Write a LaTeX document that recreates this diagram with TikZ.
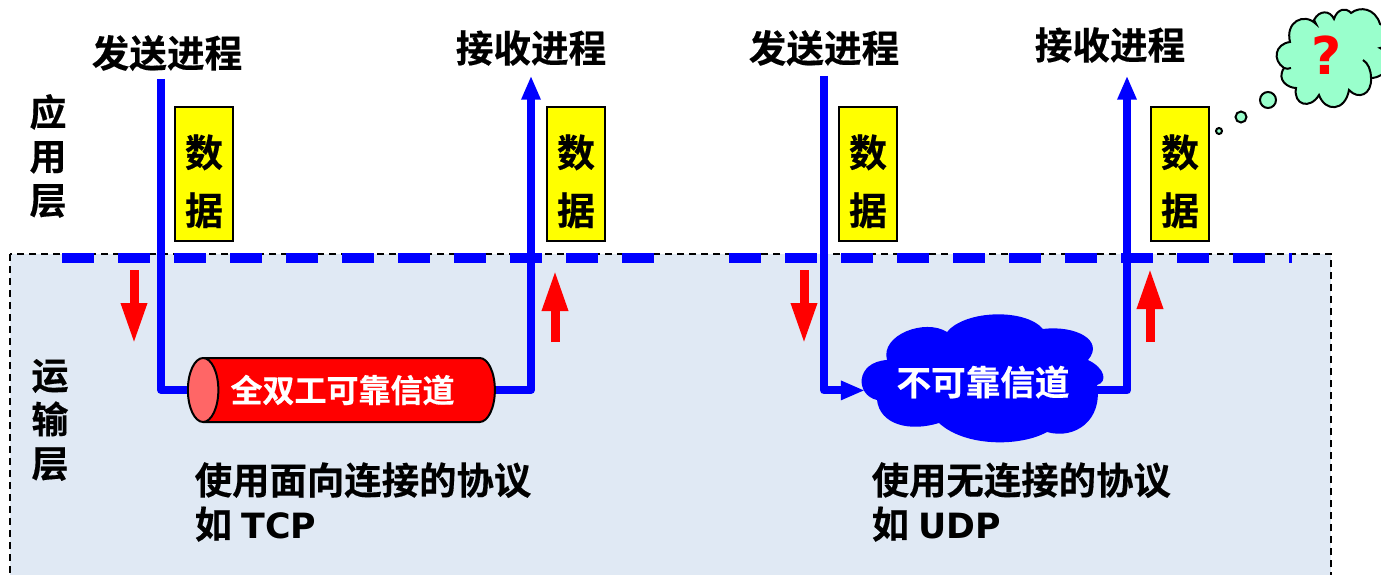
\documentclass[tikz,border=0pt]{standalone}
\usepackage{fontspec}
\setmainfont{Noto Sans CJK SC}[BoldFont=* Bold,BoldFeatures={FakeBold=0.4}]
\newfontfamily\latinfont{DejaVu Sans}[BoldFont=* Bold,Scale=0.93]
\usetikzlibrary{arrows.meta,shapes.geometric}
\definecolor{panelblue}{HTML}{E0E9F4}
\definecolor{thinkgreen}{HTML}{99FFCC}
\definecolor{capred}{HTML}{FF6666}
\definecolor{boxyellow}{HTML}{FFFF00}
\begin{document}
\begin{tikzpicture}[x=1pt,y=-1pt]
\path[use as bounding box,clip] (0,0) rectangle (1381,575);

% definitions
\tikzstyle{process} = [inner sep=0pt, outer ysep=10pt, font=\fontsize{37.6}{44}\selectfont\bfseries]
\tikzstyle{layer} = [inner sep=0pt, align=center, font=\fontsize{37}{44}\selectfont\bfseries]
\tikzstyle{data} = [rectangle, minimum width=58pt, minimum height=134pt, inner sep=0pt, align=center, draw=black, line width=2pt, fill=boxyellow, font=\fontsize{38}{58}\selectfont\bfseries]
\tikzstyle{protocol} = [anchor=west, inner sep=0pt, align=left, font=\fontsize{37.4}{44}\selectfont\bfseries]
\tikzstyle{channel} = [cylinder, shape border rotate=180, shape aspect=1, minimum height=307pt, minimum width=64pt, inner sep=0pt, draw=black, line width=2pt, cylinder uses custom fill, cylinder body fill=red, cylinder end fill=capred, text=white, font=\fontsize{32}{38}\selectfont\bfseries]
\tikzstyle{cloudtext} = [minimum width=240pt, inner sep=0pt, text=white, font=\fontsize{34.6}{40}\selectfont\bfseries]
\tikzstyle{pipe} = [draw=blue, line width=8pt, line join=round]
\tikzstyle{arrow} = [-{Triangle[length=24pt,width=18pt]}]
\tikzstyle{boundary} = [draw=blue, line width=10pt, dash pattern=on 32pt off 24pt]
\tikzstyle{updown} = [draw=red, line width=9pt, -{Triangle[length=41pt,width=24pt]}]
\tikzstyle{bubble} = [circle, inner sep=0pt, draw=black, line width=2pt, fill=thinkgreen]

% transport layer background
\draw[draw=black, line width=2pt, dash pattern=on 7pt off 5pt, fill=panelblue] (10,254) rectangle (1331,590);

% layer boundary
\coordinate (bl0) at (62,258);
\coordinate (bl1) at (656,258);
\coordinate (br0) at (729,258);
\coordinate (br1) at (1292,258);
\draw[boundary] (bl0) -- (bl1);
\draw[boundary] (br0) -- (br1);

% layer names
\node (app) [layer] at (48,156) {应\\用\\层};
\node (trans) [layer] at (50,420) {运\\输\\层};

% processes
\node (send1) [process] at (167,53) {发送进程};
\node (recv1) [process] at (531,48) {接收进程};
\node (send2) [process] at (824,48) {发送进程};
\node (recv2) [process] at (1110,45) {接收进程};

% data boxes
\node (data1) [data] at (204,174) {\rule{0pt}{47pt}数\\据};
\node (data2) [data] at (576,174) {\rule{0pt}{47pt}数\\据};
\node (data3) [data] at (868,174) {\rule{0pt}{47pt}数\\据};
\node (data4) [data] at (1180,174) {\rule{0pt}{47pt}数\\据};

% the cloud
\fill[blue] (947,332) .. controls (965,310) and (1025,308) .. (1043,329)
  .. controls (1075,325) and (1105,340) .. (1088,360)
  .. controls (1105,368) and (1108,382) .. (1097,385)
  .. controls (1103,420) and (1075,440) .. (1047,432)
  .. controls (1020,447) and (965,447) .. (939,423)
  .. controls (910,432) and (880,425) .. (877,400)
  .. controls (855,395) and (855,362) .. (887,360)
  .. controls (880,335) and (925,318) .. (947,332) -- cycle;

% the channels
\node (reliable) [channel] at (349.5,390) {\hspace*{-14pt}全双工可靠信道};
\node (unreliable) [cloudtext] at (983,382) {不可靠信道};

% the pipes
\draw[pipe] ([xshift=-6pt,yshift=2pt]send1.south) |- (reliable.west);
\draw[pipe, arrow] (reliable.east) -| (recv1.south);
\draw[pipe, arrow] (send2.south) |- ([xshift=2pt]unreliable.184);
\draw[pipe, arrow] ([xshift=-8pt]unreliable.356) -| ([xshift=17pt,yshift=-3pt]recv2.south);

% red arrows
\coordinate (d1a) at (134,270);
\coordinate (d1b) at (134,344);
\coordinate (u1a) at (555,342);
\coordinate (u1b) at (555,270);
\coordinate (d2a) at (804,270);
\coordinate (d2b) at (804,344);
\coordinate (u2a) at (1150,342);
\coordinate (u2b) at (1150,268);
\draw[updown] (d1a) -- (d1b);
\draw[updown] (u1a) -- (u1b);
\draw[updown] (d2a) -- (d2b);
\draw[updown] (u2a) -- (u2b);

% protocols
\node (tcp) [protocol] at (194.5,502) {使用面向连接的协议\\如\hspace{1pt} {\latinfont TCP}};
\node (udp) [protocol] at (871.5,502) {使用无连接的协议\\如\hspace{1pt} {\latinfont UDP}};

% thought bubble
\draw[draw=black, line width=2pt, fill=thinkgreen] (1290,42)
  .. controls (1285,22) and (1304,12) .. (1316,24)
  -- (1314,20)
  .. controls (1319,10) and (1330,10) .. (1334,19)
  .. controls (1337,9) and (1346,7) .. (1351,13)
  .. controls (1360,6) and (1375,8) .. (1380,24)
  .. controls (1395,30) and (1395,45) .. (1380,48)
  .. controls (1395,55) and (1395,72) .. (1381,75)
  .. controls (1378,77) and (1374,78) .. (1371,78)
  .. controls (1372,95) and (1358,100) .. (1349,90)
  .. controls (1345,112) and (1325,112) .. (1319,95)
  .. controls (1310,110) and (1293,105) .. (1296,88)
  .. controls (1288,88) and (1276,80) .. (1284,68)
  .. controls (1272,60) and (1275,44) .. (1290,42) -- cycle;
\draw[draw=black, line width=2pt] (1363,60) .. controls (1368,63) and (1371,70) .. (1371,78);
\draw[draw=black, line width=2pt] (1284,68) .. controls (1286,69) and (1289,69) .. (1291,68);
\node (mark) [inner sep=0pt, text=red, font=\fontsize{56}{60}\selectfont\latinfont\bfseries] at (1327,55) {?};
\node (b1) [bubble, minimum size=16pt] at (1268,100) {};
\node (b2) [bubble, minimum size=11pt] at (1241,117) {};
\node (b3) [bubble, minimum size=6pt] at (1219,131) {};

\end{tikzpicture}
\end{document}
